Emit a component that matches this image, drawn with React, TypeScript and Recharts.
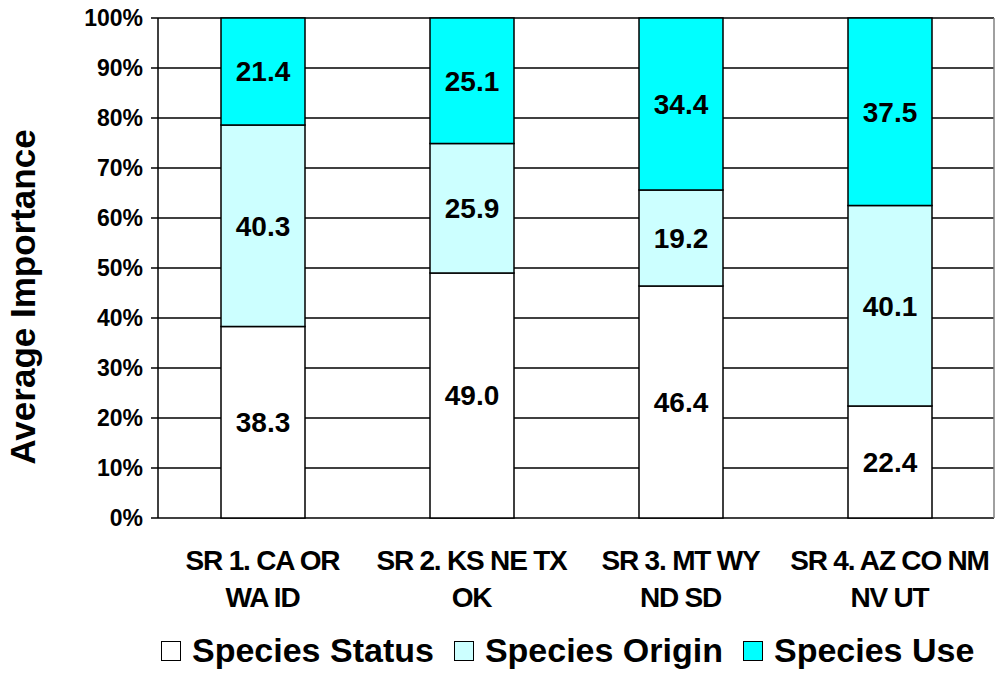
import { BarChart, Bar, XAxis, YAxis, CartesianGrid, Legend, LabelList } from "recharts";

const FONT = '"Liberation Sans", Arial, Helvetica, sans-serif';

const categories = [
  "SR 1. CA OR\nWA ID",
  "SR 2. KS NE TX\nOK",
  "SR 3. MT WY\nND SD",
  "SR 4. AZ CO NM\nNV UT",
];
const speciesStatus = [38.3, 49.0, 46.4, 22.4];
const speciesOrigin = [40.3, 25.9, 19.2, 40.1];
const speciesUse = [21.4, 25.1, 34.4, 37.5];
const yTicks = [0, 10, 20, 30, 40, 50, 60, 70, 80, 90, 100];
const edgeTicks = [0, 1, 2, 3, 4];

const series = [
  { key: "status", name: "Species Status", color: "#FFFFFF" },
  { key: "origin", name: "Species Origin", color: "#CCFFFF" },
  { key: "use", name: "Species Use", color: "#00FFFF" },
];

const data = categories.map((category, i) => ({
  category,
  status: speciesStatus[i],
  origin: speciesOrigin[i],
  use: speciesUse[i],
}));

function CategoryTick({ x, y, payload }: any) {
  const lines = String(payload.value).split("\n");
  return (
    <text
      x={x}
      y={y}
      textAnchor="middle"
      fontFamily={FONT}
      fontWeight="bold"
      fontSize={28}
      letterSpacing={-1.2}
      fill="#000"
    >
      {lines.map((line, i) => (
        <tspan key={i} x={x} dy={i === 0 ? 52 : 37}>
          {line}
        </tspan>
      ))}
    </text>
  );
}

function AxisTitle() {
  return (
    <text
      x={35}
      y={297}
      transform="rotate(-90, 35, 297)"
      textAnchor="middle"
      fontFamily={FONT}
      fontWeight="bold"
      fontSize={35}
      fill="#000"
    >
      Average Importance
    </text>
  );
}

function LegendBox() {
  return (
    <div
      style={{
        display: "flex",
        alignItems: "center",
        fontFamily: FONT,
        fontWeight: "bold",
        fontSize: 34,
        color: "#000",
        whiteSpace: "nowrap",
      }}
    >
      {series.map((s) => (
        <div key={s.key} style={{ display: "flex", alignItems: "center", marginRight: 20 }}>
          <span
            style={{
              display: "inline-block",
              width: 18,
              height: 18,
              border: "1.5px solid #000",
              background: s.color,
              marginRight: 11,
            }}
          />
          <span>{s.name}</span>
        </div>
      ))}
    </div>
  );
}

export default function App() {
  return (
    <div style={{ position: "absolute", left: 0, top: 0, background: "#fff" }}>
      <BarChart width={995} height={675} data={data} margin={{ top: 18, right: 0, left: 0, bottom: 0 }}>
        <CartesianGrid vertical={false} stroke="#000" strokeWidth={1.5} xAxisId="cat" yAxisId="left" />
        <XAxis
          xAxisId="edge"
          type="number"
          domain={[0, 4]}
          ticks={edgeTicks}
          allowDataOverflow
          height={0}
          tickSize={8}
          tick={() => <g />}
          axisLine={{ stroke: "#000", strokeWidth: 1.5 }}
          tickLine={{ stroke: "#000", strokeWidth: 1.5 }}
        />
        <XAxis
          xAxisId="cat"
          dataKey="category"
          height={157}
          interval={0}
          axisLine={false}
          tickLine={false}
          tickSize={0}
          tickMargin={0}
          tick={<CategoryTick />}
        />
        <YAxis
          yAxisId="left"
          width={158}
          domain={[0, 100]}
          ticks={yTicks}
          interval={0}
          tickFormatter={(v) => `${v}%`}
          tickSize={7}
          tickMargin={8}
          tick={{ fill: "#000", fontSize: 23, fontWeight: "bold", fontFamily: FONT }}
          axisLine={{ stroke: "#000", strokeWidth: 1.5 }}
          tickLine={{ stroke: "#000", strokeWidth: 1.5 }}
          label={<AxisTitle />}
        />
        <YAxis
          yAxisId="right"
          orientation="right"
          width={1}
          domain={[0, 100]}
          tick={false}
          tickLine={false}
          axisLine={{ stroke: "#808080", strokeWidth: 1.5 }}
        />
        <Legend
          layout="horizontal"
          verticalAlign="middle"
          align="center"
          wrapperStyle={{ top: 631, left: 161, width: "auto" }}
          content={<LegendBox />}
        />
        {series.map((s) => (
          <Bar
            key={s.key}
            dataKey={s.key}
            name={s.name}
            stackId="a"
            xAxisId="cat"
            yAxisId="left"
            fill={s.color}
            stroke="#000"
            strokeWidth={1.5}
            barSize={84}
            isAnimationActive={false}
          >
            <LabelList
              dataKey={s.key}
              position="center"
              formatter={(v: any) => Number(v).toFixed(1)}
              fill="#000"
              fontSize={28}
              fontWeight="bold"
              fontFamily={FONT}
            />
          </Bar>
        ))}
      </BarChart>
    </div>
  );
}
